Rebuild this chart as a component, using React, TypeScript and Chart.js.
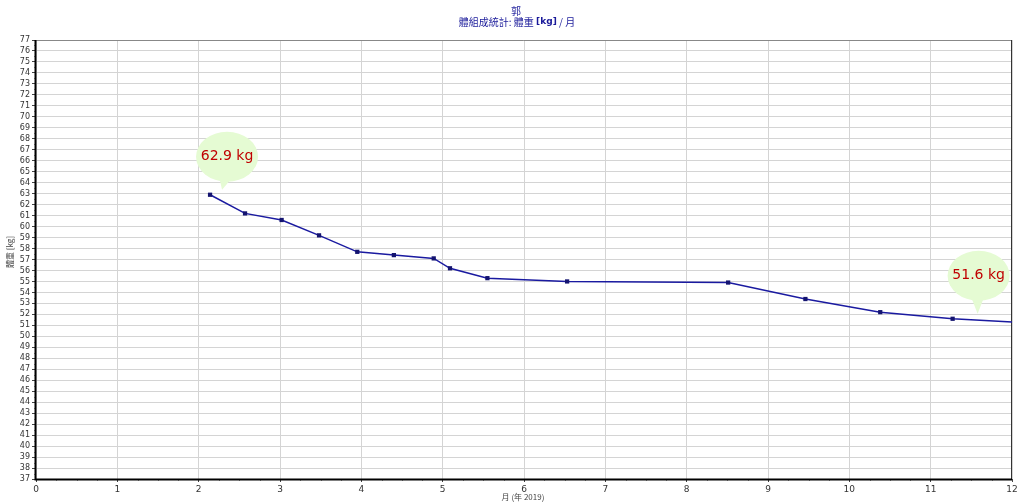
import React, { useEffect, useRef } from "react";
import { Chart, registerables } from "chart.js";

Chart.register(...registerables);

const monthValues: number[] = [2.14, 2.57, 3.02, 3.48, 3.95, 4.4, 4.89, 5.09, 5.55, 6.53, 8.51, 9.46, 10.38, 11.27, 12.4];
const weightValues: number[] = [62.9, 61.2, 60.6, 59.2, 57.7, 57.4, 57.1, 56.2, 55.3, 55.0, 54.9, 53.4, 52.2, 51.6, 51.15];
const xTickLabels: string[] = ["0", "1", "2", "3", "4", "5", "6", "7", "8", "9", "10", "11", "12"];
const yMin = 37;
const yMax = 77;
const calloutIndices: number[] = [0, 13];
const calloutTexts: string[] = ["62.9 kg", "51.6 kg"];
const titleLine1 = "郭";
const titleLine2a = "體組成統計: 體重 ";
const titleLine2b = "[kg]";
const titleLine2c = " / 月";
const yTitle = "體重 [kg]";
const xTitle = "月 (年 2019)";

const decorPlugin = {
  id: "decor",
  beforeDatasetsDraw(chart: any) {
    const { ctx, chartArea, scales } = chart;
    const x = scales.x;
    const y = scales.y;
    ctx.save();
    // minor ticks
    ctx.strokeStyle = "#999";
    ctx.lineWidth = 1;
    for (let m = 0; m < 12; m++) {
      for (let k = 1; k < 4; k++) {
        const px = Math.round(x.getPixelForValue(m + k / 4)) + 0.5;
        ctx.beginPath();
        ctx.moveTo(px, chartArea.bottom);
        ctx.lineTo(px, chartArea.bottom + 2);
        ctx.stroke();
      }
    }
    for (let v = yMin; v < yMax; v++) {
      const py = Math.round(y.getPixelForValue(v + 0.5)) + 0.5;
      ctx.beginPath();
      ctx.moveTo(chartArea.left - 2, py);
      ctx.lineTo(chartArea.left, py);
      ctx.stroke();
    }
    // border
    ctx.strokeStyle = "#888";
    ctx.beginPath();
    ctx.moveTo(chartArea.left, chartArea.top + 0.5);
    ctx.lineTo(chartArea.right - 0.5, chartArea.top + 0.5);
    ctx.lineTo(chartArea.right - 0.5, chartArea.bottom);
    ctx.stroke();
    ctx.strokeStyle = "#333";
    ctx.beginPath();
    ctx.moveTo(chartArea.right - 0.5, chartArea.top);
    ctx.lineTo(chartArea.right - 0.5, chartArea.bottom);
    ctx.stroke();
    ctx.strokeStyle = "#000";
    ctx.lineWidth = 2;
    ctx.beginPath();
    ctx.moveTo(chartArea.left - 0.5, chartArea.top);
    ctx.lineTo(chartArea.left - 0.5, chartArea.bottom + 0.5);
    ctx.lineTo(chartArea.right, chartArea.bottom + 0.5);
    ctx.stroke();

    // titles
    ctx.fillStyle = "#1a1a9a";
    ctx.textBaseline = "middle";
    ctx.textAlign = "center";
    ctx.font = "10px 'Noto Sans CJK TC'";
    ctx.fillText(titleLine1, 516, 11);
    const f1 = "10px 'Noto Sans CJK TC'";
    const f2 = "bold 9px 'DejaVu Sans'";
    ctx.font = f1;
    const wa = ctx.measureText(titleLine2a).width;
    const wc = ctx.measureText(titleLine2c).width;
    ctx.font = f2;
    const wb = ctx.measureText(titleLine2b).width;
    let sx = 517 - (wa + wb + wc) / 2;
    ctx.textAlign = "left";
    ctx.font = f1;
    ctx.fillText(titleLine2a, sx, 22);
    sx += wa;
    ctx.font = f2;
    ctx.fillText(titleLine2b, sx, 22);
    sx += wb;
    ctx.font = f1;
    ctx.fillText(titleLine2c, sx, 22);

    // axis titles
    ctx.fillStyle = "#444";
    ctx.textAlign = "center";
    ctx.font = "8px 'Noto Sans CJK TC'";
    ctx.fillText(xTitle, 523, 497);
    ctx.save();
    ctx.translate(10, 252);
    ctx.rotate(-Math.PI / 2);
    ctx.fillText(yTitle, 0, 0);
    ctx.restore();
    ctx.restore();
  },
  afterDatasetsDraw(chart: any) {
    const { ctx, scales } = chart;
    const x = scales.x;
    const y = scales.y;
    ctx.save();
    calloutIndices.forEach((idx, i) => {
      const px = x.getPixelForValue(monthValues[idx]);
      const py = y.getPixelForValue(weightValues[idx]);
      const cx = px + (i === 0 ? 17 : 26);
      const cy = py - (i === 0 ? 38 : 43);
      const tipX = px + (i === 0 ? 12 : 25);
      const tipY = py - 5;
      ctx.fillStyle = "#e5fbd3";
      ctx.beginPath();
      ctx.ellipse(cx, cy, 31, 25, 0, 0, Math.PI * 2);
      ctx.fill();
      ctx.beginPath();
      ctx.moveTo(cx - 8, cy + 20);
      ctx.lineTo(tipX, tipY);
      ctx.lineTo(cx + 6, cy + 20);
      ctx.closePath();
      ctx.fill();
      ctx.fillStyle = "#c00000";
      ctx.font = "14px 'DejaVu Sans'";
      ctx.textAlign = "center";
      ctx.textBaseline = "middle";
      ctx.fillText(calloutTexts[i], cx, cy);
    });
    ctx.restore();
  },
};

export default function App() {
  const ref = useRef<HTMLCanvasElement>(null);
  useEffect(() => {
    if (!ref.current) return;
    const data = monthValues.map((m, i) => ({ x: m, y: weightValues[i] }));
    const chart = new Chart(ref.current, {
      type: "scatter",
      data: {
        datasets: [
          {
            data,
            showLine: true,
            borderColor: "#1a1aa0",
            borderWidth: 1.5,
            backgroundColor: "#141470",
            pointStyle: "rect",
            pointRadius: 3,
            pointBorderWidth: 0,
            pointHoverRadius: 3,
            clip: 0,
          } as any,
        ],
      },
      options: {
        animation: false,
        responsive: false,
        maintainAspectRatio: false,
        events: [],
        layout: { padding: { top: 40, right: 11, left: 0, bottom: 0 } },
        plugins: {
          legend: { display: false },
          tooltip: { enabled: false },
          title: { display: false },
        },
        scales: {
          x: {
            type: "linear",
            min: 0,
            max: 12,
            afterBuildTicks(scale: any) {
              scale.ticks = xTickLabels.map((_, i) => ({ value: i }));
            },
            afterFit(scale: any) {
              scale.height = 24;
            },
            border: { display: false },
            grid: { color: "#d4d4d4", lineWidth: 1, tickLength: 3, tickColor: "#444" },
            ticks: {
              color: "#333",
              font: { family: "'DejaVu Sans'", size: 9 },
              padding: 2,
              maxRotation: 0,
              autoSkip: false,
              callback: (v: any) => xTickLabels[Number(v)] ?? "",
            },
          },
          y: {
            type: "linear",
            min: yMin,
            max: yMax,
            afterBuildTicks(scale: any) {
              const t = [];
              for (let v = yMin; v <= yMax; v++) t.push({ value: v });
              scale.ticks = t;
            },
            afterFit(scale: any) {
              scale.width = 36;
            },
            border: { display: false },
            grid: { color: "#d4d4d4", lineWidth: 1, tickLength: 4, tickColor: "#444" },
            ticks: {
              color: "#333",
              font: { family: "'DejaVu Sans'", size: 8 },
              padding: 2,
              autoSkip: false,
              callback: (v: any) => String(v),
            },
          },
        },
      },
      plugins: [decorPlugin],
    } as any);
    return () => chart.destroy();
  }, []);
  return (
    <div style={{ position: "fixed", left: 0, top: 0, width: 1023, height: 503, background: "#fff" }}>
      <canvas ref={ref} width={1023} height={503} style={{ display: "block", width: 1023, height: 503 }} />
    </div>
  );
}
